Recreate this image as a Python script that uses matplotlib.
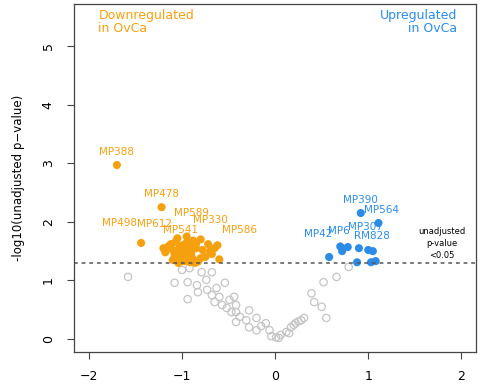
import matplotlib.pyplot as plt

# log2 fold change / -log10(p)
down_x = [-1.70, -1.22, -1.44, -1.05, -0.95, -0.88, -0.80, -0.72, -0.65, -0.68,
          -1.15, -1.10, -1.20, -1.00, -0.92, -0.85, -0.78, -1.02, -0.97, -0.93,
          -1.05, -1.10, -0.88, -0.83, -1.00, -0.75, -1.12, -0.90, -0.98, -1.08,
          -0.95, -0.85, -0.70, -1.18, -0.62, -1.03, -0.96, -0.90, -1.07,
          -0.97, -0.91, -1.04, -0.86, -0.80, -1.08, -0.60]
down_y = [2.97, 2.25, 1.64, 1.72, 1.75, 1.68, 1.70, 1.62, 1.55, 1.45,
          1.58, 1.52, 1.55, 1.60, 1.58, 1.55, 1.52, 1.48, 1.42, 1.38,
          1.40, 1.35, 1.36, 1.32, 1.33, 1.40, 1.62, 1.48, 1.52, 1.45,
          1.65, 1.62, 1.50, 1.48, 1.60, 1.56, 1.46, 1.42, 1.66,
          1.33, 1.31, 1.30, 1.30, 1.38, 1.38, 1.36]

up_x = [0.92, 1.11, 0.58, 0.72, 0.78, 0.88, 1.03, 1.08, 0.90, 1.00, 1.05, 0.70]
up_y = [2.15, 1.98, 1.40, 1.50, 1.57, 1.31, 1.31, 1.33, 1.55, 1.52, 1.50, 1.58]

ns_x = [-1.00, -0.92, -0.79, -0.68, -1.08, -0.94, -0.84, -0.74, -0.83, -0.73,
        -0.63, -0.54, -0.94, -0.68, -0.60, -0.65, -0.57, -0.49, -0.44, -0.52,
        -0.42, -0.47, -0.42, -0.28, -0.38, -0.31, -0.20, -0.42, -0.28, -0.20,
        -0.10, -0.06, 0.01, 0.06, 0.12, 0.17, 0.22, 0.28, 0.31, 0.15,
        0.39, 0.42, 0.50, 0.55, 0.52, 0.66, 0.79, -1.58, -0.04, 0.04,
        0.25, 0.20, -0.15]
ns_y = [1.18, 1.21, 1.14, 1.14, 0.96, 0.97, 0.92, 1.01, 0.80, 0.84,
        0.87, 0.96, 0.68, 0.75, 0.72, 0.63, 0.58, 0.67, 0.72, 0.53,
        0.58, 0.46, 0.46, 0.49, 0.38, 0.32, 0.36, 0.29, 0.20, 0.15,
        0.27, 0.15, 0.03, 0.07, 0.12, 0.20, 0.27, 0.32, 0.36, 0.10,
        0.78, 0.63, 0.55, 0.36, 0.97, 1.06, 1.23, 1.06, 0.05, 0.02,
        0.30, 0.24, 0.22]

down_labels = ["MP388", "MP478", "MP498", "MP612", "MP589", "MP330", "MP586", "MP541"]
down_lab_x = [-1.70, -1.22, -1.67, -1.30, -0.90, -0.70, -0.38, -1.02]
down_lab_y = [2.97, 2.25, 1.76, 1.74, 1.92, 1.80, 1.63, 1.64]

up_labels = ["MP390", "MP564", "MP307", "MP6", "MP42", "RM828"]
up_lab_x = [0.92, 1.14, 0.97, 0.68, 0.46, 1.04]
up_lab_y = [2.15, 1.98, 1.68, 1.62, 1.57, 1.53]

orange = "#F5A00F"
blue = "#2B8CE8"
grey = "#C4C4C4"

fig = plt.figure(figsize=(4.81, 3.88), dpi=100)
ax = fig.add_axes([0.154, 0.093, 0.836, 0.897])

ax.scatter(ns_x, ns_y, s=28, facecolors="none", edgecolors=grey, linewidths=0.9)
ax.scatter(down_x, down_y, s=34, color=orange, edgecolors="none")
ax.scatter(up_x, up_y, s=34, color=blue, edgecolors="none")

for name, x, y in zip(down_labels, down_lab_x, down_lab_y):
    ax.annotate(name, (x, y), xytext=(0, 6), textcoords="offset points",
                ha="center", va="bottom", color=orange, fontsize=7.5)
for name, x, y in zip(up_labels, up_lab_x, up_lab_y):
    ax.annotate(name, (x, y), xytext=(0, 6), textcoords="offset points",
                ha="center", va="bottom", color=blue, fontsize=7.5)

ax.axhline(1.30103, color="#555555", linestyle=(0, (2.5, 2.5)), linewidth=1.1)

ax.text(-1.90, 5.63, "Downregulated\nin OvCa", color=orange, fontsize=9,
        ha="left", va="top", linespacing=1.0)
ax.text(1.96, 5.63, "Upregulated\nin OvCa", color=blue, fontsize=9,
        ha="right", va="top", linespacing=1.0)
ax.text(1.79, 1.63, "unadjusted\np-value\n<0.05", color="black", fontsize=6,
        ha="center", va="center", linespacing=1.4)

ax.set_xlim(-2.16, 2.16)
ax.set_ylim(-0.22, 5.72)
ax.set_xticks([-2, -1, 0, 1, 2])
ax.set_xticklabels(["\u22122", "\u22121", "0", "1", "2"])
ax.set_yticks([0, 1, 2, 3, 4, 5])
for lab in ax.get_yticklabels():
    lab.set_rotation(90)
    lab.set_va("center")
ax.tick_params(direction="out", length=5, width=0.8, labelsize=9, color="#444444")
ax.tick_params(axis="x", pad=8)
ax.tick_params(axis="y", pad=9)
ax.set_ylabel("-log10(unadjusted p\u2212value)", fontsize=8.5, labelpad=12)
for sp in ax.spines.values():
    sp.set_color("#444444")
    sp.set_linewidth(0.9)

fig.savefig("out.png", dpi=100)
